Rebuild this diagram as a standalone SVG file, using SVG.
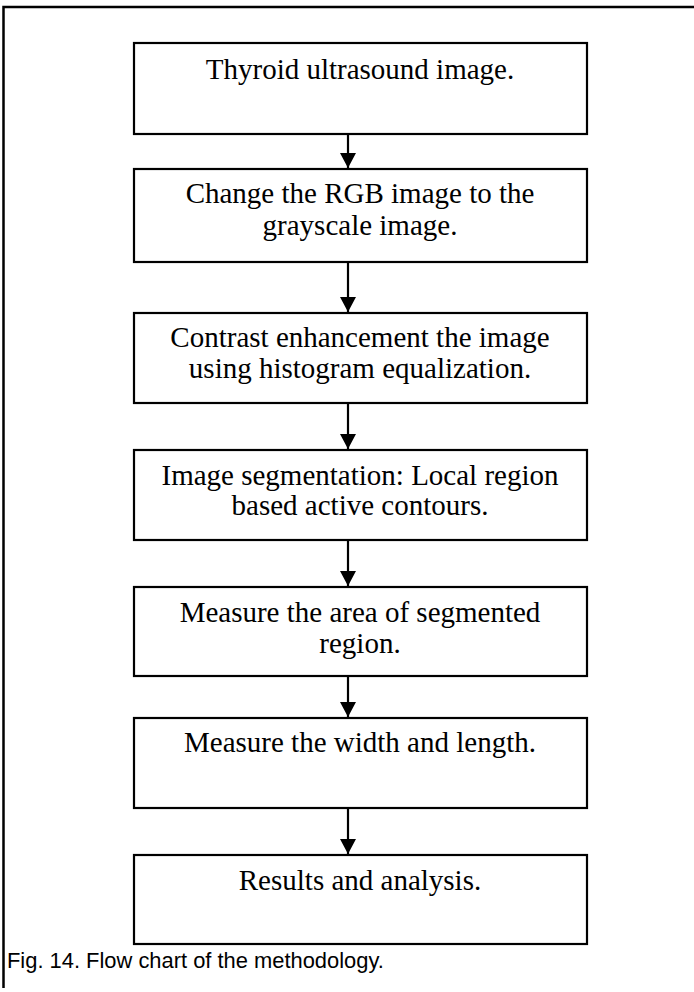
<svg xmlns="http://www.w3.org/2000/svg" width="694" height="992" viewBox="0 0 694 992">
<style>
.box{fill:#fff;stroke:#000;stroke-width:2.2}
.t{font-family:"Liberation Serif","Times New Roman",serif;font-size:29px;fill:#000;text-anchor:middle}
.cap{font-family:"Liberation Sans",Arial,sans-serif;font-size:21.9px;fill:#000}
.c{stroke:#000;stroke-width:2.2;fill:none;marker-end:url(#ah)}
</style>
<defs>
<marker id="ah" markerUnits="userSpaceOnUse" markerWidth="15" markerHeight="16" refX="15" refY="8" orient="auto" viewBox="0 0 15 16">
<path d="M0,0 L15,8 L0,16 Z" fill="#000"/>
</marker>
</defs>
<rect width="694" height="992" fill="#fff"/>
<path d="M3.5,988 V7 H694" fill="none" stroke="#000" stroke-width="2.5"/>
<g id="connectors">
<path class="c" d="M348,134 V168"/>
<path class="c" d="M348,262 V312"/>
<path class="c" d="M348,403 V449"/>
<path class="c" d="M348,540 V586"/>
<path class="c" d="M348,676 V717"/>
<path class="c" d="M348,808 V854"/>
</g>
<g id="n1"><rect class="box" x="134" y="43" width="453" height="91"/><text class="t" x="360" y="79">Thyroid ultrasound image.</text></g>
<g id="n2"><rect class="box" x="134" y="169" width="453" height="93"/><text class="t" x="360" y="203">Change the RGB image to the</text><text class="t" x="360" y="235">grayscale image.</text></g>
<g id="n3"><rect class="box" x="134" y="313" width="453" height="90"/><text class="t" x="360" y="347">Contrast enhancement the image</text><text class="t" x="360" y="378">using histogram equalization.</text></g>
<g id="n4"><rect class="box" x="134" y="450" width="453" height="90"/><text class="t" x="360" y="485">Image segmentation: Local region</text><text class="t" x="360" y="515">based active contours.</text></g>
<g id="n5"><rect class="box" x="134" y="587" width="453" height="89"/><text class="t" x="360" y="622">Measure the area of segmented</text><text class="t" x="360" y="653">region.</text></g>
<g id="n6"><rect class="box" x="134" y="718" width="453" height="90"/><text class="t" x="360" y="752">Measure the width and length.</text></g>
<g id="n7"><rect class="box" x="134" y="855" width="453" height="89"/><text class="t" x="360" y="890">Results and analysis.</text></g>
<text class="cap" x="7" y="968">Fig. 14. Flow chart of the methodology.</text>
</svg>
